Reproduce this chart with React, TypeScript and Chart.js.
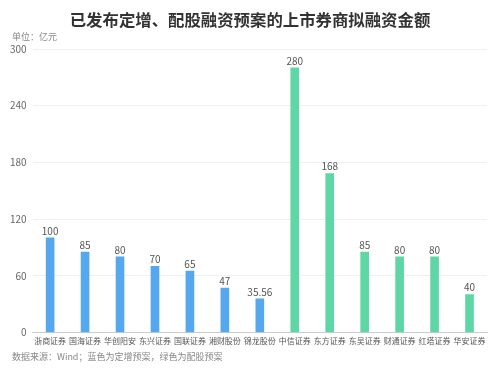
import React, { useEffect, useRef } from "react";
import { Chart, registerables } from "chart.js";
Chart.register(...registerables);

const categories = ["浙商证券", "国海证券", "华创阳安", "东兴证券", "国联证券", "湘财股份", "锦龙股份", "中信证券", "东方证券", "东吴证券", "财通证券", "红塔证券", "华安证券"];
const values = [100, 85, 80, 70, 65, 47, 35.56, 280, 168, 85, 80, 80, 40];
const types = ["定增", "定增", "定增", "定增", "定增", "定增", "定增", "配股", "配股", "配股", "配股", "配股", "配股"];
const yTicks = [0, 60, 120, 180, 240, 300];

const BLUE = "#55a8ee";
const GREEN = "#5fd6a6";
const FONT = "'Noto Sans CJK SC', 'Noto Sans', sans-serif";

const textPlugin = {
  id: "texts",
  afterDatasetsDraw(chart: any) {
    const ctx = chart.ctx;
    const meta = chart.getDatasetMeta(0);
    ctx.save();
    ctx.font = `10px ${FONT}`;
    ctx.fillStyle = "#555";
    ctx.textAlign = "center";
    ctx.textBaseline = "bottom";
    meta.data.forEach((bar: any, i: number) => {
      ctx.fillText(String(values[i]), bar.x, bar.y - 2);
    });
    ctx.restore();
  },
  afterDraw(chart: any) {
    const ctx = chart.ctx;
    ctx.save();
    ctx.fillStyle = "#333";
    ctx.font = `bold 16.4px ${FONT}`;
    ctx.textAlign = "center";
    ctx.textBaseline = "middle";
    ctx.fillText("已发布定增、配股融资预案的上市券商拟融资金额", 250, 20);
    ctx.font = `9px ${FONT}`;
    ctx.fillStyle = "#888";
    ctx.textAlign = "left";
    ctx.fillText("单位：亿元", 12, 37);
    ctx.fillText("数据来源：Wind；蓝色为定增预案，绿色为配股预案", 12, 357);
    ctx.restore();
  },
};

export default function App() {
  const ref = useRef<HTMLCanvasElement>(null);
  useEffect(() => {
    if (!ref.current) return;
    const chart = new Chart(ref.current, {
      type: "bar",
      data: {
        labels: categories,
        datasets: [
          {
            data: values,
            backgroundColor: types.map((t) => (t === "定增" ? BLUE : GREEN)),
            barThickness: 8,
          },
        ],
      },
      options: {
        animation: false,
        responsive: false,
        layout: { padding: { top: 49, bottom: 25, left: 4, right: 13 } },
        plugins: { legend: { display: false }, tooltip: { enabled: false } },
        scales: {
          x: {
            grid: { display: false, drawTicks: false },
            border: { color: "#cccccc" },
            ticks: { color: "#555", font: { size: 8, family: FONT }, maxRotation: 0, autoSkip: false, padding: 4 },
          },
          y: {
            min: 0,
            max: 300,
            afterBuildTicks: (axis: any) => {
              axis.ticks = yTicks.map((v) => ({ value: v }));
            },
            grid: { color: "#f0f0f0", drawTicks: false },
            border: { display: false },
            ticks: { color: "#666", font: { size: 10, family: FONT }, padding: 6 },
          },
        },
      },
      plugins: [textPlugin],
    });
    return () => chart.destroy();
  }, []);
  return (
    <div style={{ position: "fixed", left: 0, top: 0, width: 500, height: 375, background: "#fff" }}>
      <canvas ref={ref} width={500} height={375} />
    </div>
  );
}
